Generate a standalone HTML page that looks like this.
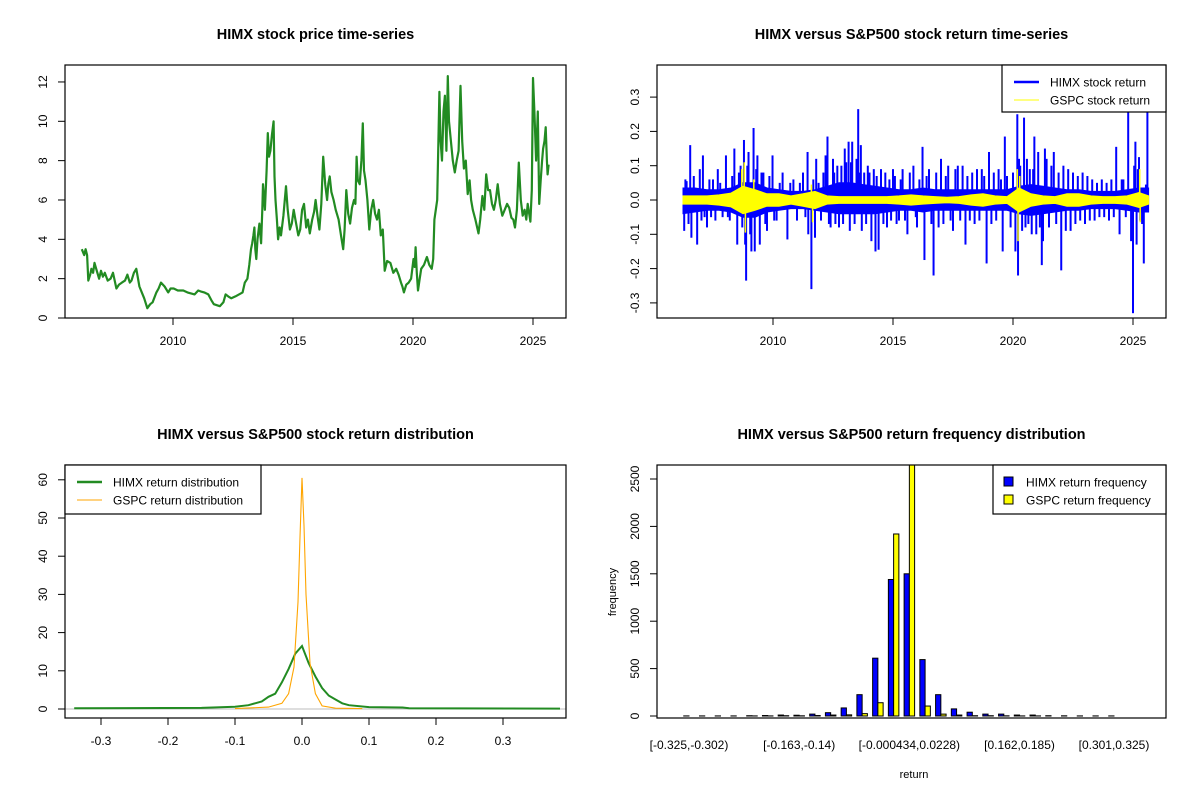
<!DOCTYPE html>
<html><head><meta charset="utf-8">
<style>
html,body{margin:0;padding:0;background:#fff;}
svg{display:block;font-family:"Liberation Sans",Arial,sans-serif;}
</style></head>
<body>
<svg id="chart" width="1200" height="800" viewBox="0 0 1200 800"></svg>
<script>
// ---------- Panel 1: price ----------
const priceYears = [2006.2,2006.3,2006.36,2006.42,2006.47,2006.55,2006.6,2006.67,2006.73,2006.8,2006.92,2007.0,2007.08,2007.16,2007.28,2007.4,2007.5,2007.64,2007.75,2007.87,2008.0,2008.1,2008.2,2008.27,2008.37,2008.47,2008.6,2008.7,2008.8,2008.93,2009.05,2009.15,2009.31,2009.4,2009.5,2009.65,2009.8,2009.9,2010.03,2010.2,2010.43,2010.6,2010.9,2011.05,2011.15,2011.3,2011.47,2011.6,2011.7,2011.95,2012.1,2012.19,2012.3,2012.43,2012.6,2012.75,2012.9,2012.99,2013.1,2013.18,2013.25,2013.3,2013.35,2013.39,2013.43,2013.47,2013.52,2013.6,2013.64,2013.67,2013.72,2013.75,2013.8,2013.83,2013.9,2013.95,2014.0,2014.06,2014.12,2014.19,2014.23,2014.27,2014.33,2014.38,2014.44,2014.5,2014.6,2014.71,2014.78,2014.87,2014.95,2015.03,2015.1,2015.22,2015.3,2015.38,2015.46,2015.55,2015.62,2015.7,2015.8,2015.88,2015.94,2016.02,2016.1,2016.18,2016.26,2016.34,2016.42,2016.47,2016.53,2016.6,2016.69,2016.78,2016.9,2017.0,2017.09,2017.15,2017.22,2017.3,2017.38,2017.46,2017.54,2017.6,2017.65,2017.7,2017.78,2017.85,2017.91,2017.96,2018.02,2018.1,2018.18,2018.26,2018.34,2018.42,2018.5,2018.58,2018.66,2018.74,2018.82,2018.92,2019.06,2019.18,2019.3,2019.4,2019.5,2019.56,2019.62,2019.72,2019.82,2019.92,2020.02,2020.07,2020.11,2020.16,2020.21,2020.28,2020.34,2020.46,2020.58,2020.68,2020.78,2020.84,2020.89,2020.95,2021.01,2021.06,2021.1,2021.15,2021.21,2021.27,2021.33,2021.39,2021.45,2021.5,2021.58,2021.66,2021.74,2021.82,2021.9,2021.98,2022.05,2022.12,2022.2,2022.28,2022.36,2022.42,2022.49,2022.6,2022.73,2022.8,2022.89,2022.97,2023.05,2023.13,2023.21,2023.29,2023.37,2023.45,2023.53,2023.62,2023.72,2023.82,2023.92,2024.01,2024.1,2024.18,2024.25,2024.33,2024.41,2024.49,2024.57,2024.65,2024.72,2024.78,2024.84,2024.89,2024.95,2025.0,2025.06,2025.13,2025.2,2025.26,2025.32,2025.38,2025.42,2025.48,2025.53,2025.58,2025.61,2025.65];
const priceValues = [3.5,3.2,3.5,3.2,1.9,2.2,2.5,2.3,2.8,2.5,2.0,2.4,2.1,2.3,1.9,2.0,2.3,1.5,1.7,1.8,1.9,2.2,1.8,1.9,2.3,2.5,1.6,1.3,1.0,0.5,0.7,0.8,1.3,1.5,1.8,1.6,1.3,1.5,1.5,1.4,1.4,1.3,1.2,1.4,1.35,1.3,1.2,0.9,0.7,0.6,0.8,1.2,1.1,1.0,1.1,1.2,1.3,1.8,2.0,2.7,3.5,3.8,4.2,4.6,3.5,3.0,4.0,4.8,4.2,3.8,5.5,6.8,6.0,5.5,7.5,9.4,8.2,8.5,9.3,10.0,7.2,6.0,5.0,4.0,4.6,4.2,5.2,6.7,5.5,4.5,4.8,5.5,5.0,4.2,4.5,5.5,5.8,4.6,5.0,4.3,5.0,5.4,6.0,5.2,4.5,5.8,8.2,6.8,6.0,6.8,7.2,6.4,6.0,5.5,5.0,4.2,3.5,4.5,6.5,5.3,4.8,5.6,6.0,5.8,8.2,7.0,6.8,8.0,9.9,7.5,7.0,6.0,4.5,5.5,6.0,5.3,5.0,5.5,4.2,4.5,2.4,2.9,2.8,2.3,2.5,2.2,1.8,1.6,1.3,1.7,1.8,2.0,3.0,2.6,3.6,2.3,1.4,2.0,2.5,2.7,3.1,2.7,2.5,3.0,5.0,5.5,6.0,9.0,11.5,9.0,8.0,10.5,11.3,8.5,12.3,10.0,9.0,8.0,7.4,8.0,8.5,11.8,9.0,7.6,8.0,6.3,7.0,6.0,5.5,5.0,4.3,5.0,6.2,5.5,7.3,6.5,6.5,5.8,5.5,6.0,6.8,5.8,5.2,5.5,5.8,5.6,5.1,5.0,4.6,5.5,7.9,6.0,5.2,5.5,5.0,5.8,5.3,4.9,6.5,12.2,10.5,8.0,10.5,5.8,7.0,8.0,8.6,9.0,9.7,8.0,7.3,7.8];
const yearTicks = [2010,2015,2020,2025];
const priceTicks = [0,2,4,6,8,10,12];

// ---------- Panel 2: returns ----------
const bandYears = [2006.25,2006.75,2007.25,2007.75,2008.25,2008.75,2009.25,2009.75,2010.25,2010.75,2011.25,2011.75,2012.25,2012.75,2013.25,2013.75,2014.25,2014.75,2015.25,2015.75,2016.25,2016.75,2017.25,2017.75,2018.25,2018.75,2019.25,2019.75,2020.25,2020.75,2021.25,2021.75,2022.25,2022.75,2023.25,2023.75,2024.25,2024.75,2025.25,2025.65];
const himxBandHi = [0.035,0.035,0.03,0.03,0.035,0.05,0.05,0.035,0.03,0.025,0.025,0.03,0.04,0.05,0.05,0.045,0.04,0.035,0.03,0.03,0.035,0.03,0.03,0.03,0.03,0.03,0.03,0.03,0.04,0.045,0.04,0.035,0.03,0.03,0.025,0.025,0.025,0.03,0.035,0.035];
const himxBandLo = [-0.04,-0.035,-0.03,-0.03,-0.035,-0.05,-0.05,-0.035,-0.03,-0.025,-0.025,-0.03,-0.035,-0.04,-0.04,-0.04,-0.04,-0.035,-0.03,-0.03,-0.035,-0.03,-0.03,-0.03,-0.03,-0.03,-0.03,-0.03,-0.04,-0.045,-0.04,-0.035,-0.03,-0.03,-0.025,-0.025,-0.025,-0.03,-0.035,-0.035];
const gspcBandHi = [0.012,0.012,0.012,0.015,0.02,0.04,0.03,0.018,0.018,0.012,0.018,0.025,0.012,0.01,0.01,0.01,0.01,0.01,0.012,0.015,0.012,0.01,0.008,0.01,0.015,0.018,0.012,0.01,0.035,0.018,0.012,0.01,0.018,0.018,0.012,0.01,0.01,0.012,0.022,0.012];
const gspcBandLo = gspcBandHi.map(v => -v);
const himxSpikeYears = [2006.3,2006.35,2006.4,2006.48,2006.55,2006.6,2006.7,2006.84,2006.95,2007.02,2007.08,2007.15,2007.25,2007.35,2007.42,2007.5,2007.6,2007.7,2007.8,2007.9,2008.04,2008.12,2008.2,2008.3,2008.39,2008.51,2008.58,2008.65,2008.72,2008.79,2008.84,2008.88,2008.93,2008.98,2009.05,2009.1,2009.19,2009.24,2009.3,2009.35,2009.45,2009.52,2009.6,2009.68,2009.75,2009.85,2009.98,2010.05,2010.15,2010.28,2010.4,2010.6,2010.72,2010.85,2011.0,2011.12,2011.25,2011.35,2011.44,2011.47,2011.6,2011.68,2011.75,2011.8,2011.9,2012.0,2012.1,2012.19,2012.27,2012.33,2012.4,2012.5,2012.55,2012.6,2012.68,2012.75,2012.85,2012.92,2012.99,2013.05,2013.15,2013.2,2013.25,2013.3,2013.4,2013.48,2013.55,2013.6,2013.66,2013.7,2013.8,2013.88,2013.95,2014.02,2014.1,2014.2,2014.27,2014.32,2014.4,2014.5,2014.6,2014.68,2014.75,2014.85,2014.92,2015.0,2015.08,2015.15,2015.25,2015.32,2015.4,2015.5,2015.6,2015.7,2015.85,2015.95,2016.0,2016.1,2016.23,2016.31,2016.4,2016.5,2016.6,2016.69,2016.8,2016.9,2017.0,2017.1,2017.2,2017.3,2017.4,2017.5,2017.6,2017.7,2017.8,2017.9,2018.02,2018.1,2018.2,2018.3,2018.4,2018.5,2018.6,2018.7,2018.8,2018.9,2019.0,2019.1,2019.2,2019.3,2019.4,2019.5,2019.57,2019.66,2019.75,2019.9,2020.0,2020.1,2020.18,2020.21,2020.25,2020.3,2020.38,2020.46,2020.52,2020.58,2020.64,2020.7,2020.78,2020.84,2020.89,2020.97,2021.05,2021.12,2021.2,2021.25,2021.33,2021.4,2021.5,2021.6,2021.7,2021.8,2021.9,2022.01,2022.1,2022.2,2022.3,2022.4,2022.5,2022.6,2022.7,2022.8,2022.9,2023.0,2023.1,2023.2,2023.3,2023.4,2023.5,2023.6,2023.7,2023.8,2023.9,2024.0,2024.1,2024.2,2024.3,2024.44,2024.53,2024.6,2024.7,2024.8,2024.92,2025.0,2025.05,2025.1,2025.15,2025.2,2025.25,2025.3,2025.38,2025.45,2025.54,2025.6];
const himxSpikeValues = [-0.09,0.06,0.055,-0.07,0.16,-0.11,0.07,-0.13,0.09,-0.06,0.13,-0.05,-0.08,0.06,-0.05,0.06,-0.06,0.09,0.05,-0.05,0.13,-0.05,-0.06,0.07,0.15,-0.13,0.08,0.1,-0.08,0.175,-0.13,-0.235,0.1,0.14,-0.1,-0.15,0.21,-0.15,0.09,0.13,-0.13,0.08,0.08,-0.07,-0.09,0.07,0.13,-0.06,-0.06,0.05,0.08,-0.115,0.05,0.06,-0.06,0.05,0.08,-0.05,0.14,-0.1,-0.26,0.06,-0.11,0.12,0.05,-0.06,0.08,0.13,0.185,-0.07,-0.08,0.12,0.08,-0.07,0.1,-0.08,0.1,-0.07,0.15,0.11,0.17,-0.09,0.11,0.17,-0.07,0.12,0.265,0.08,0.16,-0.09,0.08,-0.07,0.1,0.08,-0.12,0.09,-0.15,0.07,-0.145,0.09,-0.07,0.08,-0.08,0.06,-0.06,0.09,0.07,-0.07,-0.06,0.06,0.09,-0.06,-0.1,0.08,0.1,-0.05,-0.08,0.06,0.155,-0.175,0.07,0.09,-0.07,-0.22,0.08,-0.08,0.12,-0.07,0.07,0.1,-0.06,-0.09,0.09,0.1,-0.06,0.1,-0.13,0.07,-0.06,0.08,-0.07,0.09,-0.06,0.09,0.07,-0.185,0.14,-0.07,0.08,-0.06,0.09,0.06,-0.15,0.185,0.07,-0.08,0.08,-0.15,0.25,-0.22,0.12,0.1,-0.09,0.24,-0.08,0.12,-0.07,0.09,-0.1,0.09,0.185,-0.1,0.14,-0.08,-0.19,-0.12,0.15,0.12,-0.08,0.1,0.14,-0.07,0.08,-0.205,0.1,-0.09,0.09,-0.09,0.08,-0.07,0.07,-0.06,0.08,-0.07,0.07,-0.06,0.06,-0.06,0.05,-0.05,0.06,-0.05,0.05,-0.06,0.06,-0.05,0.155,-0.1,0.06,0.06,-0.05,0.26,-0.12,-0.33,0.1,0.17,-0.13,0.09,0.125,-0.06,-0.07,-0.185,0.045];
const gspcSpikeYears = [2008.7,2008.8,2008.85,2009.2,2011.6,2011.65,2020.18,2020.21,2020.28,2025.28,2025.3];
const gspcSpikeValues = [0.09,0.11,-0.095,0.06,0.045,-0.065,0.09,-0.12,0.07,0.09,-0.065];
const retTicks = [-0.3,-0.2,-0.1,0.0,0.1,0.2,0.3];

// ---------- Panel 3: densities ----------
const himxDensX = [-0.34,-0.15,-0.1,-0.08,-0.06,-0.05,-0.04,-0.03,-0.02,-0.01,0,0.01,0.02,0.03,0.04,0.05,0.06,0.07,0.1,0.15,0.16,0.385];
const himxDensY = [0.2,0.3,0.6,1.0,2.0,3.2,4.0,7.0,10.5,14.5,16.5,12,8.5,5.5,3.5,2.5,1.5,1.0,0.5,0.4,0.2,0.1];
const gspcDensX = [-0.1,-0.05,-0.03,-0.02,-0.012,-0.006,-0.003,0,0.003,0.006,0.012,0.02,0.03,0.05,0.09];
const gspcDensY = [0.1,0.5,1.5,4,11,28,45,60.5,48,30,12,4,0.8,0.2,0.1];
const densXTicks = [-0.3,-0.2,-0.1,0.0,0.1,0.2,0.3];
const densYTicks = [0,10,20,30,40,50,60];

// ---------- Panel 4: histogram ----------
const binLabels = ["[-0.325,-0.302)","","","","","","","[-0.163,-0.14)","","","","","","","[-0.000434,0.0228)","","","","","","","[0.162,0.185)","","","","","","[0.301,0.325)"];
const himxFreq = [1,1,1,1,3,5,10,8,20,35,85,225,610,1440,1500,595,225,75,40,20,20,10,10,3,2,1,1,1];
const gspcFreq = [0,0,0,0,1,1,3,2,5,10,12,25,140,1920,2670,105,20,10,3,3,2,1,1,0,0,0,0,0];
const freqTicks = [0,500,1000,1500,2000,2500];

const NS = "http://www.w3.org/2000/svg";
const svg = document.getElementById("chart");
function el(tag, attrs, parent) {
  const e = document.createElementNS(NS, tag);
  for (const k in attrs) e.setAttribute(k, attrs[k]);
  (parent || svg).appendChild(e);
  return e;
}
function txt(s, attrs, parent) { const t = el("text", attrs, parent); t.textContent = s; return t; }

function panel(name, box, title) {
  const g = el("g", {});
  
  
  const t = txt(title, {x:(box.x0+box.x1)/2, y:box.y0-26, "text-anchor":"middle", "font-size":"14.5", "font-weight":"bold", fill:"#000"}, g);
  
  
  return g;
}
function frame(g, box) {
  const r = el("rect", {x:box.x0, y:box.y0, width:box.x1-box.x0, height:box.y1-box.y0, fill:"none", stroke:"#000", "stroke-width":"1.2"}, g);
  
  
}
function clip(id, box) {
  const d = el("clipPath", {id:id});
  el("rect", {x:box.x0, y:box.y0, width:box.x1-box.x0, height:box.y1-box.y0}, d);
}
function yAxis(g, box, ticks, fy, fmt) {
  const a = el("g", {}, g);
  
  
  ticks.forEach((v) => {
    const y = fy(v);
    el("line", {x1:box.x0-7, x2:box.x0, y1:y, y2:y, stroke:"#000"}, a);
    const t = txt(fmt(v), {x:0, y:0, transform:`translate(${box.x0-18},${y}) rotate(-90)`, "text-anchor":"middle", "font-size":"12", fill:"#000"}, a);
    
    
  });
}
function xAxis(g, box, ticks, fx, fmt) {
  const a = el("g", {}, g);
  
  
  ticks.forEach((v) => {
    const x = fx(v);
    el("line", {x1:x, x2:x, y1:box.y1, y2:box.y1+7, stroke:"#000"}, a);
    const t = txt(fmt(v), {x:x, y:box.y1+27, "text-anchor":"middle", "font-size":"12", fill:"#000"}, a);
    
    
  });
}
function legend(g, lx, ly, w, h, items) {
  const lg = el("g", {}, g);
  
  
  el("rect", {x:lx, y:ly, width:w, height:h, fill:"#fff", stroke:"#000", "stroke-width":"1.2"}, lg);
  items.forEach((it, i) => {
    const y = ly + 17 + i * 18;
    const e = el("g", {}, lg);
    
    
    if (it.kind === "line") {
      el("line", {x1:lx+12, x2:lx+37, y1:y, y2:y, stroke:it.color, "stroke-width":it.w}, e);
      txt(it.label, {x:lx+48, y:y+4.5, "font-size":"12", fill:"#000"}, e);
    } else {
      el("rect", {x:lx+11, y:y-5, width:9, height:9, fill:it.color, stroke:"#000"}, e);
      txt(it.label, {x:lx+33, y:y+4.5, "font-size":"12", fill:"#000"}, e);
    }
  });
}
function poly(xs, ys, fx, fy) { return xs.map((v,i)=>fx(v).toFixed(1)+","+fy(ys[i]).toFixed(1)).join(" "); }

// ===== Panel 1 =====
{
  const box = {x0:65, x1:566, y0:65, y1:318};
  const fx = y => 173 + (y - 2010) * 24;
  const fy = v => 318 - v * 19.67;
  const g = panel("price-panel", box, "HIMX stock price time-series");
  clip("c1", box);
  const l = el("polyline", {points:poly(priceYears, priceValues, fx, fy), fill:"none", stroke:"#228B22", "stroke-width":"2.2", "stroke-linejoin":"round", "clip-path":"url(#c1)"}, g);
  
  
  frame(g, box);
  yAxis(g, box, priceTicks, fy, v => String(v));
  xAxis(g, box, yearTicks, fx, v => String(v));
}

// ===== Panel 2 =====
{
  const box = {x0:657, x1:1166, y0:65, y1:318};
  const fx = y => 773 + (y - 2010) * 24;
  const fy = v => 200 - v * 343;
  const g = panel("return-panel", box, "HIMX versus S&P500 stock return time-series");
  clip("c2", box);
  const cg = el("g", {"clip-path":"url(#c2)"}, g);
  const bandPts = poly(bandYears, himxBandHi, fx, fy) + " " + poly(bandYears.slice().reverse(), himxBandLo.slice().reverse(), fx, fy);
  const hb = el("polygon", {points:bandPts, fill:"#0000FF", stroke:"#0000FF", "stroke-width":"1"}, cg);
  
  
  himxSpikeYears.forEach((yr, i) => {
    const s = el("line", {x1:fx(yr), x2:fx(yr), y1:fy(0), y2:fy(himxSpikeValues[i]), stroke:"#0000FF", "stroke-width":"2"}, cg);
    
    
  });
  const gPts = poly(bandYears, gspcBandHi, fx, fy) + " " + poly(bandYears.slice().reverse(), gspcBandLo.slice().reverse(), fx, fy);
  const gb = el("polygon", {points:gPts, fill:"#FFFF00", stroke:"#FFFF00", "stroke-width":"1"}, cg);
  
  
  gspcSpikeYears.forEach((yr, i) => {
    const s = el("line", {x1:fx(yr), x2:fx(yr), y1:fy(0), y2:fy(gspcSpikeValues[i]), stroke:"#FFFF00", "stroke-width":"1.5"}, cg);
    
    
  });
  frame(g, box);
  yAxis(g, box, retTicks, fy, v => v.toFixed(1));
  xAxis(g, box, yearTicks, fx, v => String(v));
  legend(g, 1002, 65, 164, 47, [{kind:"line", color:"#0000FF", w:2.5, label:"HIMX stock return"},{kind:"line", color:"#FFFF00", w:1, label:"GSPC stock return"}]);
}

// ===== Panel 3 =====
{
  const box = {x0:65, x1:566, y0:465, y1:718};
  const fx = v => 302 + v * 670;
  const fy = v => 709 - v * 3.82;
  const g = panel("density-panel", box, "HIMX versus S&P500 stock return distribution");
  clip("c3", box);
  el("line", {x1:box.x0, x2:box.x1, y1:fy(0), y2:fy(0), stroke:"#BEBEBE", "stroke-width":"1"}, g);
  const h = el("polyline", {points:poly(himxDensX, himxDensY, fx, fy), fill:"none", stroke:"#228B22", "stroke-width":"2", "clip-path":"url(#c3)"}, g);
  
  
  const s = el("polyline", {points:poly(gspcDensX, gspcDensY, fx, fy), fill:"none", stroke:"#FFA500", "stroke-width":"1.1", "clip-path":"url(#c3)"}, g);
  
  
  frame(g, box);
  yAxis(g, box, densYTicks, fy, v => String(v));
  xAxis(g, box, densXTicks, fx, v => v.toFixed(1));
  legend(g, 65, 465, 196, 49, [{kind:"line", color:"#228B22", w:2.5, label:"HIMX return distribution"},{kind:"line", color:"#FFA500", w:1, label:"GSPC return distribution"}]);
}

// ===== Panel 4 =====
{
  const box = {x0:657, x1:1166, y0:465, y1:718};
  const fx = i => 689 + i * 15.74;
  const fy = v => 716 - v * 0.0948;
  const g = panel("histogram-panel", box, "HIMX versus S&P500 return frequency distribution");
  clip("c4", box);
  const bg = el("g", {"clip-path":"url(#c4)"}, g);
  const bw = 5.25;
  binLabels.forEach((lab, i) => {
    const c = fx(i);
    const b1 = el("rect", {x:c-bw, y:fy(himxFreq[i]), width:bw, height:Math.max(0, fy(0)-fy(himxFreq[i])), fill:"#0000FF", stroke:"#000", "stroke-width":"1"}, bg);
    
    
    const b2 = el("rect", {x:c, y:fy(gspcFreq[i]), width:bw, height:Math.max(0, fy(0)-fy(gspcFreq[i])), fill:"#FFFF00", stroke:"#000", "stroke-width":"1"}, bg);
    
    
    if (lab) {
      const t = txt(lab, {x:c, y:box.y1+31, "text-anchor":"middle", "font-size":"12", fill:"#000"}, g);
      
      
    }
  });
  frame(g, box);
  yAxis(g, box, freqTicks, fy, v => String(v));
  const yl = txt("frequency", {x:0, y:0, transform:"translate(616,592) rotate(-90)", "text-anchor":"middle", "font-size":"11", fill:"#000"}, g);
  
  
  const xl = txt("return", {x:914, y:778, "text-anchor":"middle", "font-size":"11", fill:"#000"}, g);
  
  
  legend(g, 993, 465, 173, 49, [{kind:"box", color:"#0000FF", label:"HIMX return frequency"},{kind:"box", color:"#FFFF00", label:"GSPC return frequency"}]);
}
</script>
</body></html>
